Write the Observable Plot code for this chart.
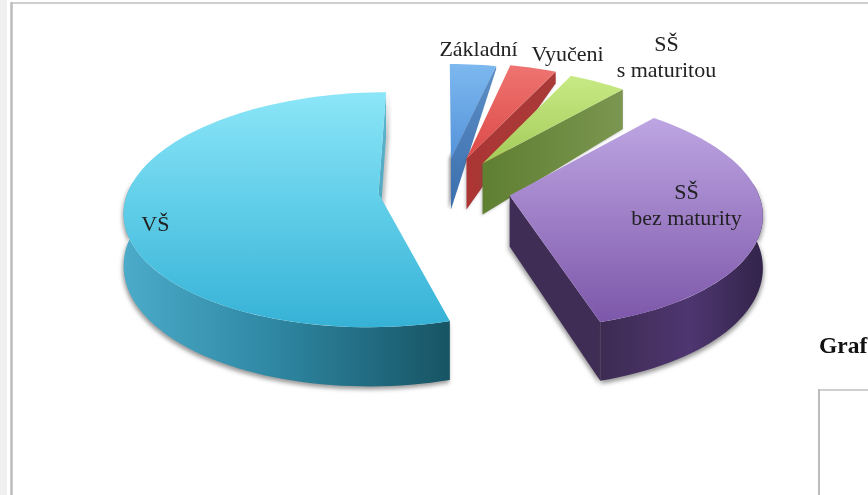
<!DOCTYPE html>
<html>
<head>
<meta charset="utf-8">
<script src="https://cdn.jsdelivr.net/npm/d3@7"></script>
<script src="https://cdn.jsdelivr.net/npm/@observablehq/plot@0.6"></script>
<style>
  html, body { margin: 0; padding: 0; background: #fff; overflow: hidden; }
  svg { display: block; filter: blur(0.45px); }
</style>
</head>
<body>
<div id="chart"></div>
<script>
// Data
const categories = ["Základní", "Vyučeni", "SŠ s maturitou", "SŠ bez maturity", "VŠ"];
const shares = [3.6, 3.6, 4.4, 33.9, 54.5];
const labelLines = [["Základní"], ["Vyučeni"], ["SŠ", "s maturitou"], ["SŠ", "bez maturity"], ["VŠ"]];

// Pie geometry, in pie units
const UX = 255, UY = 117, CX = 440, CY = 190;
const K = 0.14, START = 0;
const explodeX = [0.041, 0.102, 0.165, 0.271, -0.243];
const explodeY = [-0.274, -0.274, -0.231, 0.043, 0.026];
const radius = [0.91, 0.92, 0.93, 0.978, 0.985];
const Z = 0.436;
const outerZ = [0.03, 0.11, 0.37, Z, Z];
const labelX = [0.149, 0.498, 0.886, 0.965, -1.118];
const labelY = [-1.222, -1.18, -1.154, 0.11, 0.274];

const total = d3.sum(shares);
let acc = START;
const slices = shares.map((v, i) => {
  const a0 = acc, a1 = acc + v / total * 360;
  acc = a1;
  return {i, a0, a1, ax: explodeX[i], ay: explodeY[i], r: radius[i], zo: outerZ[i]};
});
const rad = d => d * Math.PI / 180;
function pt(s, deg, z = 0) {
  const X = Math.sin(rad(deg)) * s.r, Y = -Math.cos(rad(deg)) * s.r;
  const w = 1 - K * Y;
  return {x: (s.ax + X) / w, y: s.ay + (Y + z) / w};
}
const apex = (s, z = 0) => ({x: s.ax, y: s.ay + z});
function arc(s, a, b, z = 0) {
  const n = Math.max(2, Math.ceil(Math.abs(b - a) / 2));
  return d3.range(n + 1).map(j => pt(s, a + (b - a) * j / n, z));
}
const topFace = s => [apex(s), ...arc(s, s.a0, s.a1)];
const edgeWall = (s, deg, zo = s.zo) => [apex(s), pt(s, deg), pt(s, deg, zo), apex(s, Z)];
const arcWall = (s, a, b) => [...arc(s, a, b), ...arc(s, b, a, Z)];

const poly = (points, fill, extra = {}) =>
  Plot.line(points, {x: "x", y: "y", curve: "linear-closed", fill, stroke: "none", ...extra});

const [zak, vyu, sm, sb, vs] = slices;
const shadow = "drop-shadow(-1px 3px 2px rgba(70,70,70,.55))";

const labels = labelLines.map((lines, i) => ({text: lines.join("\n"), x: labelX[i], y: labelY[i]}));

const chart = Plot.plot({
  width: 868,
  height: 495,
  margin: 0,
  style: {background: "#fff", overflow: "hidden"},
  x: {domain: [-CX / UX, (868 - CX) / UX], range: [0, 868], axis: null},
  y: {domain: [-CY / UY, (495 - CY) / UY], range: [0, 495], axis: null},
  marks: [
    // VŠ
    poly(edgeWall(vs, vs.a1), "url(#wEdgeVS)", {imageFilter: "drop-shadow(2px 1px 2px rgba(90,90,90,.6))"}),
    poly(arcWall(vs, vs.a0, 276), "url(#wVS)", {imageFilter: shadow}),
    poly(topFace(vs), "url(#tVS)"),
    // Základní
    poly(edgeWall(zak, zak.a1), "url(#wZak)", {imageFilter: "drop-shadow(-2px 0 1.5px rgba(90,90,90,.6))"}),
    poly(topFace(zak), "url(#tZak)"),
    // Vyučeni
    poly(edgeWall(vyu, vyu.a1), "url(#wVyu)", {imageFilter: "drop-shadow(-1px 1px 1.5px rgba(90,90,90,.4))"}),
    poly(topFace(vyu), "url(#tVyu)"),
    // SŠ s maturitou
    poly(edgeWall(sm, sm.a1), "url(#wSm)", {imageFilter: "drop-shadow(-1px 1px 1.5px rgba(90,90,90,.4))"}),
    poly(topFace(sm), "url(#tSm)"),
    // SŠ bez maturity
    poly(edgeWall(sb, sb.a1), "#3f2d55", {imageFilter: shadow}),
    poly(arcWall(sb, 84, sb.a1), "url(#wSb)", {imageFilter: "drop-shadow(1px 3px 2px rgba(70,70,70,.55))"}),
    poly(topFace(sb), "url(#tSb)"),
    // Labels
    Plot.text(labels, {
      x: "x", y: "y", text: "text",
      fontFamily: "Liberation Serif", fontSize: 22, fill: "#222", lineHeight: 1.18, lineAnchor: "middle"
    })
  ]
});

// Gradients and page furniture
const gradients = [
  ["tVS", 0, 1, [[0, "#8ce6f8"], [0.5, "#5fcde8"], [1, "#36b2d6"]]],
  ["wVS", 1, 0, [[0, "#4babc9"], [0.45, "#2f88a4"], [1, "#175464"]]],
  ["wEdgeVS", 0, 1, [[0, "#5db9d2"], [1, "#4ba0bb"]]],
  ["tZak", 0, 1, [[0, "#7db8ef"], [1, "#5493da"]]],
  ["wZak", 0, 1, [[0, "#5d8fc6"], [1, "#3a6ead"]]],
  ["tVyu", 0, 1, [[0, "#ee7471"], [1, "#dc4a47"]]],
  ["wVyu", 0, 1, [[0, "#a93a38"], [1, "#ab3533"]]],
  ["tSm", 0, 1, [[0, "#c8ea85"], [1, "#a4ca58"]]],
  ["wSm", 1, 0, [[0, "#5f7f31"], [1, "#7b9650"]]],
  ["tSb", 0, 1, [[0, "#bda5e2"], [1, "#7d57aa"]]],
  ["wSb", 1, 0, [[0, "#3d2b52"], [0.55, "#4e3670"], [1, "#33244a"]]]
];
const svg = d3.select(chart);
const defs = svg.insert("defs", ":first-child");
for (const [id, h, v, stops] of gradients) {
  const g = defs.append("linearGradient").attr("id", id)
    .attr("x1", 0).attr("y1", 0).attr("x2", h).attr("y2", v);
  for (const [o, c] of stops) g.append("stop").attr("offset", o).attr("stop-color", c);
}
const frame = svg.append("g").attr("fill", "none");
frame.append("rect").attr("x", 0).attr("y", 0).attr("width", 7).attr("height", 495).attr("fill", "#f0f0f0");
frame.append("line").attr("x1", 11.5).attr("y1", 3).attr("x2", 868).attr("y2", 3).attr("stroke", "#cfcfcf").attr("stroke-width", 2);
frame.append("line").attr("x1", 11.5).attr("y1", 2).attr("x2", 11.5).attr("y2", 495).attr("stroke", "#bdbdbd").attr("stroke-width", 2.5);
frame.append("line").attr("x1", 818).attr("y1", 390).attr("x2", 868).attr("y2", 390).attr("stroke", "#cfcfcf").attr("stroke-width", 2);
frame.append("line").attr("x1", 819).attr("y1", 389).attr("x2", 819).attr("y2", 495).attr("stroke", "#bdbdbd").attr("stroke-width", 2);
svg.append("text").attr("x", 819).attr("y", 353).attr("text-anchor", "start").attr("font-family", "Liberation Serif")
  .attr("font-weight", "bold").attr("font-size", 23.5).attr("fill", "#111").text("Graf");

document.getElementById("chart").appendChild(chart);
</script>
</body>
</html>
